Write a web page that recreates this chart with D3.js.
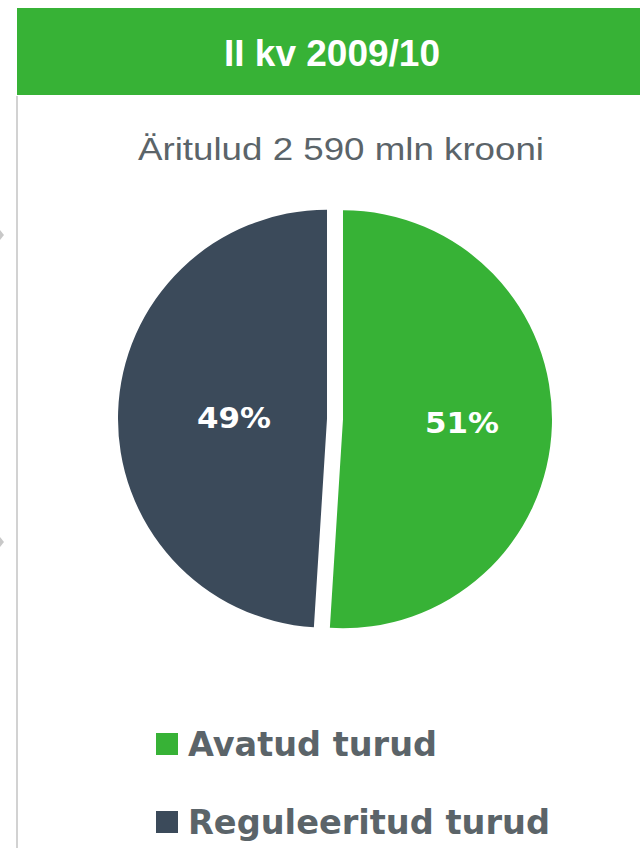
<!DOCTYPE html>
<html>
<head>
<meta charset="utf-8">
<script src="https://cdn.jsdelivr.net/npm/d3@7"></script>
<style>
  html, body { margin: 0; padding: 0; background: #ffffff; }
  svg { display: block; }
</style>
</head>
<body>
<script>
// ---- data ----
const headerText = "II kv 2009/10";
const titleText = "Äritulud 2 590 mln krooni";
const categories = ["Avatud turud", "Reguleeritud turud"];
const values = [51, 49];
const labels = ["51%", "49%"];
const colors = ["#37b236", "#3b4a5a"];

const W = 640, H = 848;
const svg = d3.select("body").append("svg").attr("width", W).attr("height", H);

// left border line
svg.append("line").attr("x1", 17).attr("x2", 17).attr("y1", 96).attr("y2", H)
  .attr("stroke", "#d2d2d2").attr("stroke-width", 2);

// small grey arrow marks at far left
[235, 542].forEach(y => {
  svg.append("path").attr("d", `M0,${y-5} L4,${y} L0,${y+5} Z`).attr("fill", "#c8c8c8");
});

// header bar
svg.append("rect").attr("x", 17).attr("y", 8).attr("width", W - 17).attr("height", 87)
  .attr("fill", colors[0]);
svg.append("text").attr("x", 332).attr("y", 66).attr("text-anchor", "middle")
  .attr("font-family", "Liberation Sans, Arial, sans-serif").attr("font-weight", "bold")
  .attr("font-size", 37).attr("fill", "#ffffff")
  .attr("textLength", 216).attr("lengthAdjust", "spacingAndGlyphs")
  .text(headerText);

// title
svg.append("text").attr("x", 341).attr("y", 160).attr("text-anchor", "middle")
  .attr("font-family", "Liberation Sans, Arial, sans-serif")
  .attr("font-size", 32).attr("fill", "#5b6469")
  .attr("textLength", 406).attr("lengthAdjust", "spacingAndGlyphs")
  .text(titleText);

// pie
const cx = 335, cy = 419, R = 209, explode = 8;
const pie = d3.pie().sort(null).value(d => d)(values);
const arc = d3.arc().innerRadius(0).outerRadius(R);
const labelRadius = [0.57, 0.445];

const g = svg.append("g").attr("transform", `translate(${cx},${cy})`);
pie.forEach((p, i) => {
  const mid = (p.startAngle + p.endAngle) / 2;
  const dx = Math.sin(mid) * explode, dy = -Math.cos(mid) * explode;
  const sg = g.append("g").attr("transform", `translate(${dx},${dy})`);
  sg.append("path").attr("d", arc(p)).attr("fill", colors[i]);
  const lr = R * labelRadius[i];
  const la = d3.arc().innerRadius(lr).outerRadius(lr);
  const [lx, ly] = la.centroid(p);
  sg.append("text").attr("x", lx).attr("y", ly + (i === 1 ? 2 : 0)).attr("text-anchor", "middle")
    .attr("dy", "0.36em")
    .attr("font-family", "DejaVu Sans, Verdana, sans-serif").attr("font-weight", "bold")
    .attr("font-size", 28).attr("fill", "#ffffff")
    .attr("textLength", 74).attr("lengthAdjust", "spacingAndGlyphs")
    .text(labels[i]);
});

// legend
const legY = [744, 822];
const legLen = [249, 362];
categories.forEach((c, i) => {
  svg.append("rect").attr("x", 156).attr("y", legY[i] - 11).attr("width", 22).attr("height", 22)
    .attr("fill", colors[i]);
  svg.append("text").attr("x", 188).attr("y", legY[i] + 12)
    .attr("font-family", "DejaVu Sans, Verdana, sans-serif").attr("font-weight", "bold")
    .attr("font-size", 34).attr("fill", "#5b6469")
    .attr("textLength", legLen[i]).attr("lengthAdjust", "spacingAndGlyphs")
    .text(c);
});
</script>
</body>
</html>
